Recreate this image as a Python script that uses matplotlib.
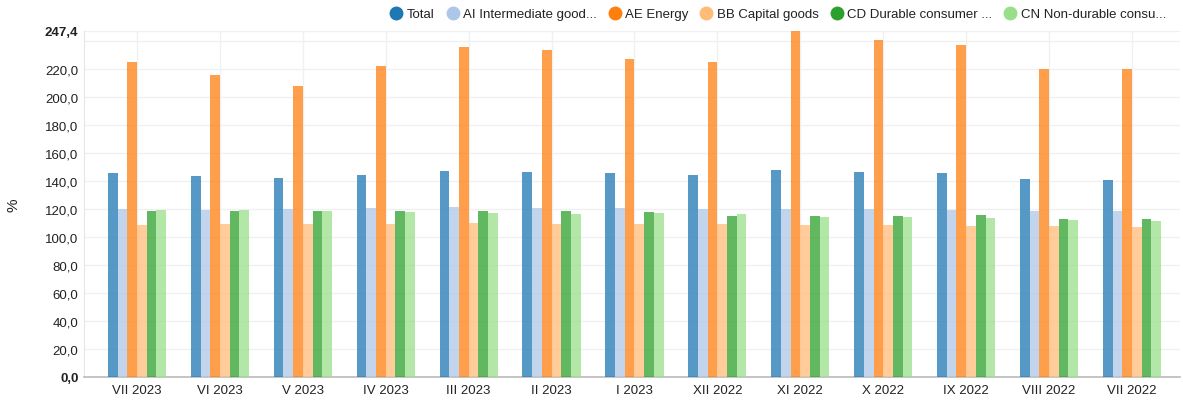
import matplotlib
matplotlib.use("Agg")
import matplotlib.pyplot as plt
from matplotlib.lines import Line2D
import numpy as np

plt.rcParams['font.family'] = ['Liberation Sans', 'DejaVu Sans']

categories = ["VII 2023", "VI 2023", "V 2023", "IV 2023", "III 2023", "II 2023", "I 2023",
              "XII 2022", "XI 2022", "X 2022", "IX 2022", "VIII 2022", "VII 2022"]

total = [145.7, 143.6, 142.1, 144.3, 147.1, 146.4, 145.7, 144.3, 147.9, 146.4, 145.7, 141.4, 140.7]
ai_intermediate = [120.0, 119.3, 120.0, 120.7, 121.4, 120.7, 120.7, 120.0, 120.0, 120.0, 119.3, 118.6, 118.6]
ae_energy = [225.0, 215.7, 207.9, 222.1, 235.7, 233.6, 227.1, 225.0, 247.4, 240.7, 237.1, 220.0, 220.0]
bb_capital = [108.6, 109.3, 109.3, 109.3, 110.0, 109.3, 109.3, 109.3, 108.6, 108.6, 107.9, 107.9, 107.1]
cd_durable = [118.6, 118.6, 118.6, 118.6, 118.6, 118.6, 117.9, 115.0, 115.0, 115.0, 115.7, 112.9, 112.9]
cn_nondurable = [119.3, 119.3, 118.6, 117.9, 117.1, 116.4, 117.1, 116.4, 114.3, 114.3, 113.6, 112.1, 111.4]

series_names = ["Total", "AI Intermediate good...", "AE Energy", "BB Capital goods",
                "CD Durable consumer ...", "CN Non-durable consu..."]
series_values = [total, ai_intermediate, ae_energy, bb_capital, cd_durable, cn_nondurable]
colors = ["#1f77b4", "#aec7e8", "#ff7f0e", "#ffbb78", "#2ca02c", "#98df8a"]

y_max = 247.4
y_ticks = [0, 20, 40, 60, 80, 100, 120, 140, 160, 180, 200, 220, 240]

fig = plt.figure(figsize=(11.83, 4.02), dpi=100)
ax = fig.add_axes([84/1183, 1 - 378/402, (1180 - 84)/1183, (378 - 31.6)/402])

x = np.arange(len(categories))
bw = 0.117
n = len(series_values)
for k, (vals, col) in enumerate(zip(series_values, colors)):
    offs = (k - (n - 1) / 2) * bw
    ax.bar(x + offs, vals, width=bw, color=col, alpha=0.75, linewidth=0, zorder=3)

ax.set_xlim(-0.64, 12.58)
ax.set_ylim(0, y_max)

ax.set_yticks(y_ticks + [y_max])
labels = []
for t in y_ticks + [y_max]:
    if t == 240:
        labels.append("")
    else:
        labels.append(f"{t:.1f}".replace(".", ","))
ax.set_yticklabels(labels)
for lbl, t in zip(ax.get_yticklabels(), y_ticks + [y_max]):
    if t in (0, y_max):
        lbl.set_fontweight("bold")
ax.set_xticks(x)
ax.set_xticklabels(categories)
ax.tick_params(axis="both", length=0, labelsize=9.5, colors="#222222")
ax.tick_params(axis="y", pad=4)
ax.tick_params(axis="x", pad=5)
ax.grid(True, axis="both", color="#f0f0f0", linewidth=1, zorder=0)

for s in ["top", "right"]:
    ax.spines[s].set_visible(False)
ax.spines["left"].set_color("#e6e6e6")
ax.spines["bottom"].set_color("#bbbbbb")
ax.spines["bottom"].set_linewidth(1.2)

fig.text(14/1183, 1 - 205/402, "%", rotation=90, ha="center", va="center", fontsize=11, color="#222222")

handles = [Line2D([0], [0], marker="o", linestyle="", markerfacecolor=c, markeredgecolor=c, markersize=9)
           for c in colors]
leg = fig.legend(handles, series_names, loc="center right", bbox_to_anchor=(1166/1183, 1 - 15/402),
                 ncol=6, frameon=False, fontsize=9.5, handletextpad=0.3, columnspacing=0.85,
                 borderaxespad=0, borderpad=0, handlelength=1.0)
for t in leg.get_texts():
    t.set_color("#222222")

fig.savefig("out.png", dpi=100)
